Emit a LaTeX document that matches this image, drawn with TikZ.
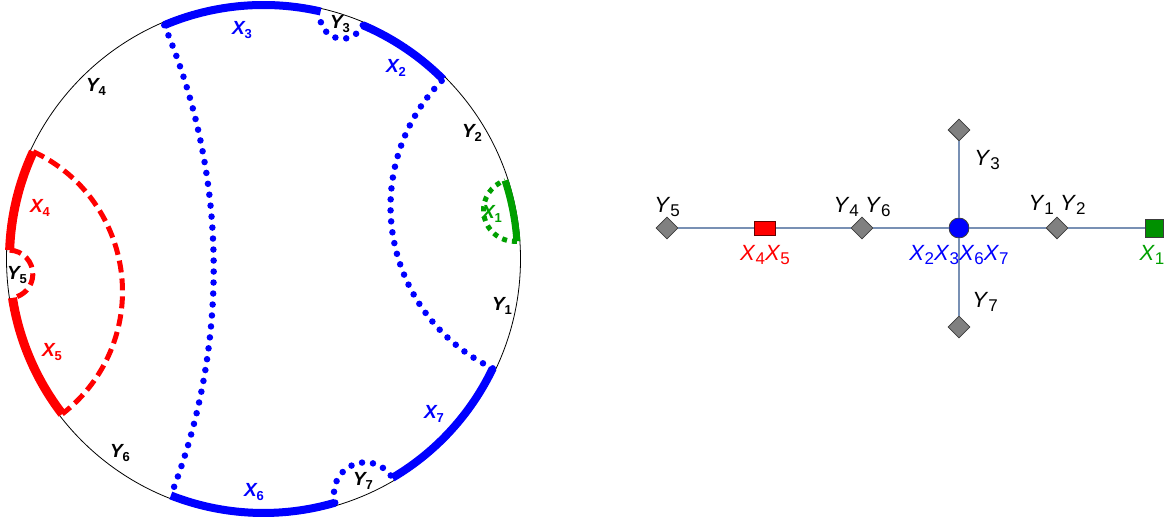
\documentclass[tikz,border=0pt]{standalone}
\usepackage{fontspec}
\setmainfont{Liberation Sans}
\usetikzlibrary{shapes.geometric,calc}
\definecolor{xblue}{RGB}{0,0,255}
\definecolor{xred}{RGB}{255,0,0}
\definecolor{xgreen}{RGB}{0,160,0}
\definecolor{edgecol}{RGB}{120,144,180}
\definecolor{dgray}{RGB}{128,128,128}
\definecolor{dborder}{RGB}{60,60,60}
\newcommand\clab[2]{{\bfseries\itshape #1}\raisebox{-0.35ex}{\bfseries\fontsize{13}{15}\selectfont #2}}
\newcommand\glab[2]{\textit{#1}\raisebox{-0.4ex}{\fontsize{17}{19}\selectfont #2}}
\def\Rg{254}
\newcommand\geod[3]{%
 \pgfmathsetmacro\hm{(#2-#1)/2}%
 \pgfmathsetmacro\mm{(#1+#2)/2}%
 \pgfmathsetmacro\rr{\Rg*tan(\hm)}%
 \pgfmathsetmacro\sa{\mm+270-\hm}%
 \pgfmathsetmacro\ea{\mm+90+\hm}%
 \draw[#3] ($(O)+(#1:\Rg pt)$) arc[start angle=\sa, end angle=\ea, radius=\rr pt];}
\newcommand\band[3]{%
 \draw[#3] ($(O)+(#1:\Rg pt)$) arc[start angle=#1, end angle=#2, radius=\Rg pt];}
\tikzset{
 blueband/.style={xblue, line width=8pt},
 redband/.style={xred, line width=9pt},
 greenband/.style={xgreen, line width=7pt},
 bluedot/.style={xblue, line width=6.5pt, dash pattern=on 0pt off 11pt, line cap=round},
 reddash/.style={xred, line width=5pt, dash pattern=on 12pt off 6pt},
 greendash/.style={xgreen, line width=5pt, dash pattern=on 5pt off 5pt},
 clabel/.style={font=\fontsize{19}{22}\selectfont, inner sep=0pt},
 glabel/.style={font=\fontsize{22}{26}\selectfont, inner sep=0pt},
 ynode/.style={diamond, aspect=1, minimum width=22pt, minimum height=22pt, inner sep=0pt, fill=dgray, draw=dborder, line width=0.8pt},
 edge/.style={edgecol, line width=1.3pt}
}
\begin{document}
\begin{tikzpicture}[x=1pt,y=1pt]
\useasboundingbox (0,0) rectangle (1168,518);
\coordinate (O) at (263.5,259);
\draw[black, line width=0.8pt] (O) circle[radius=257pt];
% geodesics
\geod{113}{248.6}{bluedot}
\geod{-25.5}{45}{bluedot}
\geod{67}{77}{bluedot}
\geod{-73.6}{-59.5}{bluedot}
\geod{155}{217.6}{reddash}
\geod{178}{188.8}{reddash}
\geod{4}{18}{greendash}
% bands
\band{77}{113}{blueband}
\band{45}{67}{blueband}
\band{-59.5}{-25.5}{blueband}
\band{-111.4}{-73.6}{blueband}
\band{155}{178}{redband}
\band{188.8}{217.6}{redband}
\band{4}{18}{greenband}
% circle labels
\node[clabel, xblue] (lX3) at (242,488) {\clab{X}{3}};
\node[clabel] (lY3) at (340,494) {\clab{Y}{3}};
\node[clabel, xblue] (lX2) at (396,450) {\clab{X}{2}};
\node[clabel] (lY4) at (96,431) {\clab{Y}{4}};
\node[clabel] (lY2) at (472,385) {\clab{Y}{2}};
\node[clabel, xgreen] (lX1) at (492,304) {\clab{X}{1}};
\node[clabel] (lY1) at (502,212) {\clab{Y}{1}};
\node[clabel, xblue] (lX7) at (434,104) {\clab{X}{7}};
\node[clabel] (lY7) at (363,37) {\clab{Y}{7}};
\node[clabel, xblue] (lX6) at (254,26) {\clab{X}{6}};
\node[clabel] (lY6) at (120,65) {\clab{Y}{6}};
\node[clabel, xred] (lX5) at (52,166) {\clab{X}{5}};
\node[clabel] (lY5) at (17,243) {\clab{Y}{5}};
\node[clabel, xred] (lX4) at (40,310) {\clab{X}{4}};
% graph
\node[ynode] (Y5) at (667,290) {};
\node[draw=black!60!red, fill=xred, line width=0.8pt, minimum width=21pt, minimum height=14pt, inner sep=0pt] (X45) at (765,290) {};
\node[ynode] (Y46) at (862,290) {};
\node[circle, draw=dborder, fill=xblue, line width=0.8pt, minimum size=20pt, inner sep=0pt] (C) at (959,290) {};
\node[ynode] (Y12) at (1057,290) {};
\node[draw=dborder, fill=xgreen!90!black, line width=0.8pt, minimum size=18pt, inner sep=0pt] (X1) at (1154,290) {};
\node[ynode] (Y3) at (959,388) {};
\node[ynode] (Y7) at (959,191) {};
\draw[edge] (Y5) -- (X45);
\draw[edge] (X45) -- (Y46);
\draw[edge] (Y46) -- (C);
\draw[edge] (C) -- (Y12);
\draw[edge] (Y12) -- (X1);
\draw[edge] (Y3) -- (C);
\draw[edge] (C) -- (Y7);
\node[glabel] (tY5) at (667,311) {\glab{Y}{5}};
\node[glabel, xred] (tX45) at (765,263) {\glab{X}{4}\glab{X}{5}};
\node[glabel] (tY46) at (862,311) {\glab{Y}{4} \glab{Y}{6}};
\node[glabel, xblue] (tC) at (959,263) {\glab{X}{2}\glab{X}{3}\glab{X}{6}\glab{X}{7}};
\node[glabel] (tY3) at (987,358) {\glab{Y}{3}};
\node[glabel] (tY7) at (985,216) {\glab{Y}{7}};
\node[glabel] (tY12) at (1057,313) {\glab{Y}{1} \glab{Y}{2}};
\node[glabel, xgreen] (tX1) at (1152,263) {\glab{X}{1}};
\end{tikzpicture}
\end{document}
